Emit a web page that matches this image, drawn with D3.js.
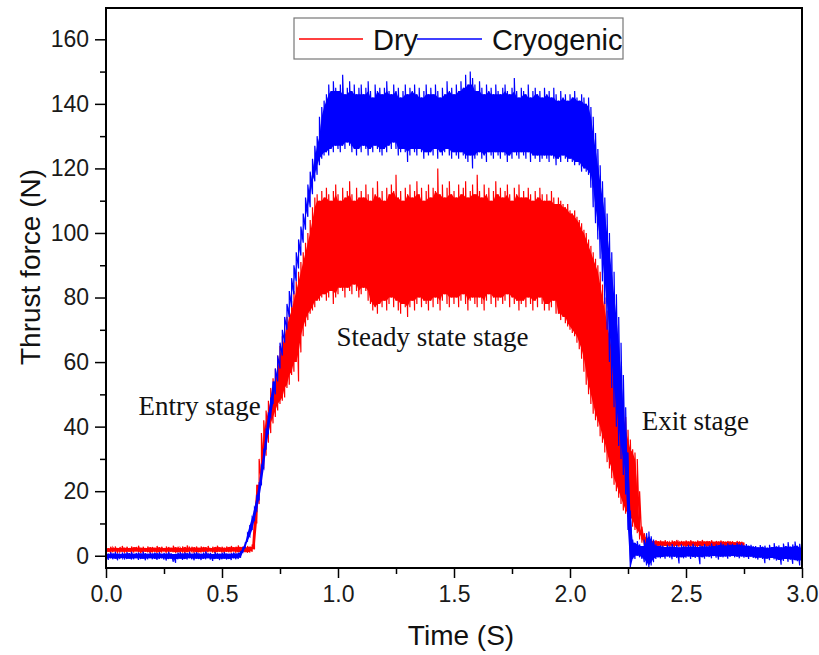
<!DOCTYPE html>
<html>
<head>
<meta charset="utf-8">
<script src="https://cdn.jsdelivr.net/npm/d3@7"></script>
<style>
body { margin: 0; background: #fff; }
</style>
</head>
<body>
<div id="plot"></div>
<script>

// force signal, one low/high pair per 0.01 s sample (envelope of the oscillation)
var step = 0.01;

var cryoLow = [
-1.0,-1.3,-0.8,-1.1,-0.9,-1.4,-1.0,-0.7,-1.2,-1.0,
-0.9,-1.2,-1.1,-0.8,-1.3,-1.0,-0.9,-1.4,-1.1,-0.8,
-1.1,-0.9,-1.3,-1.0,-0.8,-1.2,-1.5,-1.0,-0.9,-1.9,
-2.2,-1.1,-0.9,-1.3,-1.0,-1.2,-0.8,-1.1,-1.4,-0.9,
-1.0,-1.3,-0.9,-1.1,-0.8,-1.2,-1.6,-1.0,-0.9,-1.3,
-1.1,-0.9,-1.2,-1.0,-1.3,-0.8,-1.1,-1.0,-0.6,1.0,
2.5,4.5,6,8,11,14,17.5,22,27,33,
38,43,47,50,54,58,62,66,70,74,
77,81,85,89,93,97,101,105,108,112,
116,118,121,123,124,125,124,126,125,127,
126,125,127,126,128,127,125,126,124,126,
125,127,126,124,126,125,127,126,125,124,
126,125,127,126,128,126,124,125,126,125,
122,124,126,125,124,126,125,123,125,124,
125,124,126,123,125,124,125,126,124,123,
125,124,123,125,124,123,122,124,120,123,
124,125,123,124,122,125,124,123,125,124,
123,125,124,122,124,123,125,124,123,125,
124,123,125,122,124,123,124,122,123,124,
123,122,124,123,121,123,122,124,123,122,
123,122,121,122,121,119,120,119,118,114,
108,103,98,92,85,78,70,60,52,46,
40,34,30,25,19,8,-4,-1,-1,0,
-0.5,-1,-2,-3,-3.5,-3,-2,-1,-0.5,-0.8,
-0.4,-0.9,-0.2,-0.6,-1.1,-0.3,-0.7,-2.4,-0.5,-0.8,
-0.6,-0.2,-1.0,-0.4,-0.7,-0.3,-2.6,-0.5,-0.9,-0.2,
-0.4,-0.8,-0.1,-0.6,-1.2,-0.3,-0.5,-0.2,-0.9,-0.4,
-0.1,-0.5,-0.3,-0.8,-0.2,-0.6,-0.4,-1.0,-0.3,-0.7,
-0.8,-1.2,-0.6,-1.0,-2.3,-0.9,-1.4,-0.7,-1.1,-1.5,
-1.3,-2.8,-1.6,-1.0,-1.9,-1.2,-2.5,-1.4,-1.7,-3.0,
-1.5
];

var cryoHigh = [
0.9,0.6,1.1,0.7,1.2,0.8,0.5,1.0,0.7,1.1,
0.8,1.2,0.6,0.9,1.0,0.7,1.3,0.8,0.6,1.0,
0.7,1.0,0.8,1.1,0.6,0.9,0.7,1.2,0.8,0.5,
0.6,0.9,1.1,0.7,1.0,0.8,1.2,0.6,0.9,1.1,
0.8,0.6,1.0,1.3,0.7,0.9,0.5,1.1,0.8,0.6,
0.9,1.1,0.7,0.6,0.8,1.0,0.7,0.9,1.2,2.5,
4,7,9.5,12,15,18.5,22.5,28,33,39,
44,49,54,58,62,66,70,74,78,82,
86,90,94,98,102,106,111,115,119,123,
127,130,136,139,141,143,146,144,147,145,
144,146,149,143,145,147,144,146,143,145,
146,143,145,147,144,142,146,144,145,143,
145,147,144,143,146,144,145,142,144,146,
143,145,144,146,143,145,142,144,146,143,
145,143,146,144,142,145,143,147,144,145,
143,146,144,147,145,149,146,150,148,146,
144,147,145,143,146,144,145,143,146,144,
143,145,146,144,143,145,148,144,142,145,
144,143,146,142,144,145,143,144,142,145,
143,144,142,145,143,141,144,142,143,141,
143,142,144,142,141,143,142,140,142,139,
136,131,126,121,116,111,106,100,94,88,
81,74,66,56,46,32,14,5,4,4.5,
3.5,3,5,7,7.5,6,5,3.5,3,3.2,
3.1,2.7,3.4,2.9,3.6,2.8,3.3,2.6,3.5,3.0,
2.8,3.4,2.9,3.7,3.1,2.7,3.3,3.0,3.6,2.9,
3.2,3.8,3.0,3.5,3.3,4.1,3.6,3.2,3.9,3.4,
3.7,3.3,4.0,3.5,3.8,3.2,3.6,3.1,3.4,2.9,
3.0,2.6,3.3,2.8,3.1,2.5,3.4,2.7,3.9,2.9,
3.2,2.6,3.8,3.0,4.2,2.8,3.5,4.4,3.1,3.7,
2.5
];

var dryLow = [
1.0,1.2,0.9,1.1,1.3,0.8,1.0,1.2,0.9,1.1,
1.2,0.9,1.0,1.3,1.1,0.8,1.0,1.2,1.1,0.9,
1.0,1.2,0.9,1.1,1.0,1.3,0.9,1.0,1.2,1.1,
0.9,1.1,1.0,1.2,0.8,1.1,1.0,1.3,0.9,1.0,
1.1,1.0,1.2,0.9,1.1,1.3,1.0,0.8,1.1,1.2,
1.0,0.9,1.2,1.1,1.0,1.3,0.9,1.1,1.0,1.2,
1.1,0.9,1.0,1.2,2,10,16,22,27,31,
35,38,41,43,45,47,48,49,52,53,
56,57,60,54,63,68,71,73,75,76,
77,79,79,80,81,79,80,82,78,80,
81,83,82,80,83,82,81,84,82,80,
81,83,82,79,78,76,77,75,78,77,
79,76,78,80,77,79,76,75,78,77,
74,77,79,76,78,80,77,79,78,76,
79,77,80,78,76,79,81,78,77,80,
78,80,77,79,81,78,76,79,80,78,
77,80,78,76,79,81,78,80,77,79,
80,78,79,81,77,80,78,79,76,78,
79,77,80,78,76,79,77,80,78,76,
78,76,77,79,75,75,73,74,72,71,
70,69,68,66,64,61,57,53,50,47,
44,42,40,37,35,32,29,27,24,22,
20,18,16,14,13,12,11,9,8,7,
5,4,3.5,3,3,2.8,3.0,2.7,2.9,3.1,
2.8,3.0,2.6,2.9,3.1,2.7,3.0,2.8,3.2,2.9,
2.7,3.0,2.8,3.1,2.9,2.6,3.0,2.8,3.1,2.7,
2.9,2.6,3.0,2.8,3.1,2.7,2.9,3.0,2.6,2.8,
3.0,2.7,2.9,2.6,2.8,3.0
];

var dryHigh = [
2.6,2.3,2.8,2.5,2.9,2.4,2.7,3.0,2.5,2.8,
2.4,2.9,2.6,2.7,3.1,2.5,2.8,2.4,2.9,2.6,
2.7,2.5,3.0,2.6,2.8,2.4,2.9,2.7,2.5,3.1,
2.6,2.8,2.4,2.9,2.7,3.2,2.5,2.8,2.6,2.9,
2.5,2.9,2.7,2.6,3.0,2.4,2.8,2.7,3.1,2.6,
2.8,2.5,2.9,2.7,3.0,2.6,2.8,3.2,2.7,2.9,
2.6,3.0,2.8,3.5,14,22,30,38,42,45,
48,52,55,58,62,65,68,71,74,76,
79,82,85,88,91,94,97,100,104,108,
111,112,110,113,111,114,112,110,113,115,
112,110,114,111,113,116,112,110,114,111,
113,111,115,112,110,114,112,116,111,113,
110,114,112,115,113,118,111,113,110,114,
112,115,111,113,116,112,114,110,113,115,
111,114,113,120,112,115,111,114,116,112,
113,111,115,112,114,116,111,113,115,112,
118,113,111,115,112,114,110,113,116,112,
114,111,113,115,112,110,114,112,115,111,
113,111,114,112,110,113,111,114,112,110,
112,110,113,111,109,111,110,109,108,109,
107,106,107,105,104,103,101,100,98,96,
94,92,90,88,84,80,76,72,68,64,
60,56,52,47,43,39,36,33,32,30,
20,9,7,6,5.5,5,4.6,4.8,4.5,4.7,
4.4,4.8,4.5,4.2,4.7,4.5,4.9,4.3,4.6,4.4,
4.7,4.4,4.8,4.5,4.3,4.7,4.5,4.9,4.4,4.6,
4.5,4.8,4.3,4.6,4.4,4.7,4.5,4.3,4.6,4.4,
4.5,4.2,4.6,4.4,4.3,4.1
];

var seriesNames = ["Dry", "Cryogenic"];
var seriesColors = ["#ff0000", "#0000ff"];
var xTicks = [0, 0.5, 1.0, 1.5, 2.0, 2.5, 3.0];
var yTicks = [0, 20, 40, 60, 80, 100, 120, 140, 160];
var stages = [
	{label: "Entry stage", t: 0.14, v: 43.5},
	{label: "Steady state stage", t: 0.994, v: 65},
	{label: "Exit stage", t: 2.309, v: 39}
];

var W = 819, H = 655;
var plotLeft = 106, plotRight = 802, plotTop = 8, plotBottom = 568;

var svg = d3.select("#plot")
	.append("svg")
	.attr("width", W)
	.attr("height", H)
	.style("font-family", "'Liberation Sans', Arial, sans-serif");

var x = d3.scaleLinear().domain([0, 3]).range([plotLeft, plotRight]);
var y = d3.scaleLinear().domain([-3.8, 169.7]).range([plotBottom, plotTop]);

function rows(low, high){
	return low.map(function(v, i){
		return {t: i * step, lo: v, hi: high[i]};
	});
}

// core of the band: only what the neighbouring samples share, so single peaks stay thin needles
function core(series){
	return series.map(function(d, i){
		var a = series[Math.max(i - 1, 0)];
		var b = series[Math.min(i + 1, series.length - 1)];
		var lo = Math.max(a.lo, d.lo, b.lo);
		var hi = Math.min(a.hi, d.hi, b.hi);
		if (lo > hi) { lo = d.lo; hi = d.hi; }
		return {t: d.t, lo: lo, hi: hi};
	});
}

// the oscillation itself: low -> high -> next low ...
function swing(series){
	var pts = [];
	series.forEach(function(d){
		pts.push([d.t, d.lo]);
		pts.push([d.t, d.hi]);
	});
	return pts;
}

svg.append("clipPath")
	.attr("id", "clip")
	.append("rect")
	.attr("x", plotLeft)
	.attr("y", plotTop)
	.attr("width", plotRight - plotLeft)
	.attr("height", plotBottom - plotTop);

var band = d3.area()
	.x(function(d){ return x(d.t); })
	.y0(function(d){ return y(d.lo); })
	.y1(function(d){ return y(d.hi); });

var trace = d3.line()
	.x(function(p){ return x(p[0]); })
	.y(function(p){ return y(p[1]); });

var data = [rows(dryLow, dryHigh), rows(cryoLow, cryoHigh)];

data.forEach(function(series, i){
	var g = svg.append("g").attr("clip-path", "url(#clip)");

	g.append("path")
		.datum(core(series))
		.attr("d", band)
		.attr("fill", seriesColors[i]);

	g.append("path")
		.datum(swing(series))
		.attr("d", trace)
		.attr("fill", "none")
		.attr("stroke", seriesColors[i])
		.attr("stroke-width", 1.2);
});

// axes
var yAxis = d3.axisLeft(y)
	.tickValues(yTicks)
	.tickSize(11)
	.tickPadding(6)
	.tickFormat(d3.format("d"));

var yMinor = d3.axisLeft(y)
	.tickValues(yTicks.map(function(v){ return v + 10; }).filter(function(v){ return v < 170; }))
	.tickSize(6)
	.tickFormat("");

var xAxis = d3.axisBottom(x)
	.tickValues(xTicks)
	.tickSize(10)
	.tickPadding(8)
	.tickFormat(d3.format(".1f"));

var xMinor = d3.axisBottom(x)
	.tickValues([0.25, 0.75, 1.25, 1.75, 2.25, 2.75])
	.tickSize(6)
	.tickFormat("");

[yAxis, yMinor].forEach(function(a){
	svg.append("g")
		.attr("transform", "translate(" + plotLeft + ",0)")
		.call(a);
});

[xAxis, xMinor].forEach(function(a){
	svg.append("g")
		.attr("transform", "translate(0," + plotBottom + ")")
		.call(a);
});

svg.selectAll(".domain").remove();
svg.selectAll(".tick line").attr("stroke", "#000").attr("stroke-width", 1.5);
svg.selectAll(".tick text")
	.attr("fill", "#1a1a1a")
	.style("font-size", "23px")
	.style("font-family", "'Liberation Sans', Arial, sans-serif");

svg.append("rect")
	.attr("x", plotLeft)
	.attr("y", plotTop)
	.attr("width", plotRight - plotLeft)
	.attr("height", plotBottom - plotTop)
	.attr("fill", "none")
	.attr("stroke", "#000")
	.attr("stroke-width", 2);

// axis titles
svg.append("text")
	.text("Time (S)")
	.attr("x", 461)
	.attr("y", 645)
	.attr("text-anchor", "middle")
	.style("font-size", "28px")
	.attr("fill", "#111");

svg.append("text")
	.text("Thrust force (N)")
	.attr("transform", "translate(40,267) rotate(-90)")
	.attr("text-anchor", "middle")
	.style("font-size", "28px")
	.attr("fill", "#111");

// stage notes
stages.forEach(function(s){
	svg.append("text")
		.text(s.label)
		.attr("x", x(s.t))
		.attr("y", y(s.v))
		.style("font-family", "'Liberation Serif', 'Times New Roman', serif")
		.style("font-size", "27px")
		.attr("fill", "#111");
});

// legend
var legend = svg.append("g");

legend.append("rect")
	.attr("x", 294)
	.attr("y", 18)
	.attr("width", 329)
	.attr("height", 41)
	.attr("fill", "#fff")
	.attr("stroke", "#777")
	.attr("stroke-width", 1.2);

var legendX = [[299, 363, 373], [417, 482, 492]];

seriesNames.forEach(function(name, i){
	legend.append("line")
		.attr("x1", legendX[i][0])
		.attr("x2", legendX[i][1])
		.attr("y1", 39)
		.attr("y2", 39)
		.attr("stroke", seriesColors[i])
		.attr("stroke-width", 1.5);

	legend.append("text")
		.text(name)
		.attr("x", legendX[i][2])
		.attr("y", 50)
		.style("font-size", "29px")
		.attr("fill", "#111");
});

</script>
</body>
</html>
